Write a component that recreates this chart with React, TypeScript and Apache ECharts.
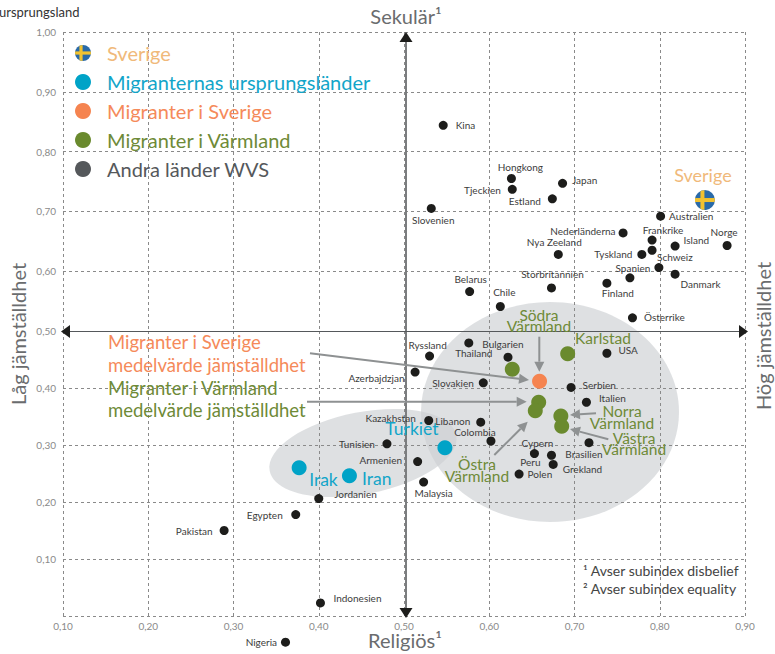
import React, { useEffect, useRef } from "react";
import * as echarts from "echarts";

// ---- values ----
const wvsNames = ["Kina","Hongkong","Tjeckien","Japan","Estland","Slovenien","Australien","Nederländerna","Frankrike","Island","Norge","","Tyskland","Nya Zeeland","Schweiz","Spanien","Danmark","Finland","Belarus","Storbritannien","Chile","Österrike","Ryssland","Thailand","Bulgarien","Azerbajdzjan","Slovakien","USA","Serbien","Italien","Kazakhstan","Libanon","Colombia","Tunisien","Armenien","Malaysia","Brasilien","Cypern","Peru","Grekland","Polen","Jordanien","Egypten","Pakistan","Indonesien","Nigeria"];
const wvsSecular = [.546,.626,.627,.686,.674,.532,.801,.757,.791,.818,.879,.791,.779,.681,.799,.765,.818,.738,.577,.673,.613,.768,.530,.576,.622,.513,.593,.738,.696,.714,.529,.590,.602,.480,.516,.523,.717,.673,.653,.675,.635,.400,.373,.289,.402,.361];
const wvsEquality = [.844,.755,.737,.747,.721,.705,.692,.664,.652,.642,.643,.635,.628,.628,.606,.589,.595,.580,.566,.572,.541,.522,.456,.479,.454,.428,.409,.461,.401,.375,.343,.340,.307,.302,.271,.235,.304,.282,.285,.266,.249,.206,.178,.150,.023,-.046];
const originNames = ["Turkiet","Irak","Iran"];
const originSecular = [.548,.377,.436];
const originEquality = [.295,.260,.246];
const migrantSweden = [.659,.412];
const varmlandNames = ["Södra Värmland","Karlstad","Östra Värmland A","Östra Värmland B","Norra Värmland","Västra Värmland"];
const varmlandSecular = [.627,.692,.658,.654,.684,.685];
const varmlandEquality = [.433,.460,.375,.360,.351,.333];
const sweden = [.853,.719];
const legendNames = ["Sverige","Migranternas ursprungsländer","Migranter i Sverige","Migranter i Värmland","Andra länder WVS"];

// ---- label placement per country: position, dx, dy ----
const labelPlace: Record<string, [string, number, number]> = {
  Kina:["right",3,0],Hongkong:["top",9,3],Tjeckien:["left",-2,1],Japan:["right",0,-3],Estland:["left",-2,2],Slovenien:["bottom",2,-3],Australien:["right",-1,0],"Nederländerna":["left",2,-2],Frankrike:["top",11,4],Island:["right",-1,-6],Norge:["top",-3,1],Tyskland:["left",0,0],"Nya Zeeland":["top",-4,2],Schweiz:["top",16,3.5],Spanien:["top",3,4.5],Danmark:["right",-4,10],Finland:["bottom",11,-5],Belarus:["top",1,1.5],Storbritannien:["top",1,1],Chile:["top",4,0],"Österrike":["right",2,-1],Ryssland:["top",-2,3],Thailand:["bottom",5,-4],Bulgarien:["top",-5,1.5],Azerbajdzjan:["left",-1,6],Slovakien:["left",0,0],USA:["right",2,-3],Serbien:["right",2,-2],Italien:["right",3,-4],Kazakhstan:["left",-3.5,-2],Libanon:["left",-1,-1],Colombia:["top",-16,5],Tunisien:["left",-2.5,0],Armenien:["left",-6,-2],Malaysia:["bottom",10,-4],Brasilien:["bottom",-5,-3],Cypern:["top",-14,2],Peru:["bottom",-4,-6],Grekland:["right",0,5],Polen:["right",-1,0],Jordanien:["right",6,-5],Egypten:["left",-3.5,0],Pakistan:["left",-2,0],Indonesien:["right",3.5,-5],Nigeria:["left",1,0],
};
const originPlace: Record<string, [string, number, number]> = {
  Turkiet:["top",-33,2],Irak:["right",-2.5,12],Iran:["right",0,3],
};

const FONT = "Lato";
const C = { sverige:"#f0b97a", cyan:"#12a5c9", cyanDot:"#00a3c7", orange:"#f58a5a", orangeDot:"#f58450", green:"#6e8a37", greenDot:"#6a8a2e", grey:"#55585b", dark:"#1d1d1b", axis:"#6a6c6e", arrow:"#8e9192" };

const flagSvg = '<svg xmlns="http://www.w3.org/2000/svg" viewBox="0 0 40 40"><defs><clipPath id="c"><circle cx="20" cy="20" r="20"/></clipPath></defs><g clip-path="url(#c)"><rect width="40" height="40" fill="#2a6aa8"/><rect x="11" width="8" height="40" fill="#f2c230"/><rect y="16" width="40" height="8" fill="#f2c230"/></g></svg>';
const flagIcon = "image://data:image/svg+xml;charset=utf-8," + encodeURIComponent(flagSvg);

function arrow(x1: number, y1: number, x2: number, y2: number) {
  const a = Math.atan2(y2 - y1, x2 - x1), L = 10, W = 5;
  const bx = x2 - L * Math.cos(a), by = y2 - L * Math.sin(a);
  const nx = -Math.sin(a), ny = Math.cos(a);
  return [
    { type:"line", z:6, silent:true, shape:{x1,y1,x2:bx,y2:by}, style:{stroke:C.arrow,lineWidth:2} },
    { type:"polygon", z:6, silent:true, shape:{points:[[x2,y2],[bx+nx*W,by+ny*W],[bx-nx*W,by-ny*W]]}, style:{fill:C.arrow} },
  ];
}
function text(s: string, x: number, y: number, fill: string, fontSize: number, align = "center", extra: any = {}, styleExtra: any = {}) {
  return { type:"text", z:7, silent:true, x, y, style:{text:s,fill,fontSize,fontFamily:FONT,textAlign:align,textVerticalAlign:"middle",...styleExtra}, ...extra };
}
function tri(points: number[][], fill = "#1d1d1b") {
  return { type:"polygon", z:6, silent:true, shape:{points}, style:{fill} };
}

const fmt = (v: number) => v.toFixed(2).replace(".", ",");
const labelBase = { show:true, fontFamily:FONT, fontSize:10, color:"#3c3c3c", formatter:"{b}" };

function pointItems(names: string[], xs: number[], ys: number[], place: Record<string,[string,number,number]>, style: any = {}) {
  return names.map((name, i) => {
    const p = place[name];
    return { name, value:[xs[i], ys[i]], label: p ? { ...labelBase, ...style, position:p[0], offset:[p[1],p[2]] } : { show:false } };
  });
}

export default function App() {
  const ref = useRef<HTMLDivElement>(null);
  useEffect(() => {
    document.body.style.margin = "0";
    const chart = echarts.init(ref.current!, undefined, { renderer:"svg" });
    const wvs = pointItems(wvsNames, wvsSecular, wvsEquality, labelPlace);
    const hi = (d: any) => d.value[1] >= 0.5;
    const scatter = (name: string, data: any[], size: number, color: string, lower = true, extra: any = {}) => ({
      type:"scatter", name, data, symbolSize:size, clip:false, z:4,
      itemStyle:{color,opacity:1},
      xAxisIndex: lower ? 1 : 0, yAxisIndex: lower ? 1 : 0, ...extra,
    });
    const xAxisBase = { type:"value", min:0.1, max:0.9, interval:0.1, axisLine:{show:false}, axisTick:{show:false},
      splitLine:{show:true,lineStyle:{color:"#8a8a8a",type:[3,3],width:1}} };
    const yAxisBase = { type:"value", interval:0.1, axisLine:{show:false}, axisTick:{show:false},
      splitLine:{show:true,lineStyle:{color:"#8a8a8a",type:[3,3],width:1}},
      axisLabel:{color:"#8a8a8a",fontFamily:FONT,fontSize:10,margin:7,formatter:fmt} };
    const green = { lineHeight:11.5 };
    chart.setOption({
      animation:false,
      grid:[
        { left:63, width:682, top:32, height:299 },
        { left:63, width:682, top:331, height:285 },
      ],
      xAxis:[
        { ...xAxisBase, gridIndex:0, axisLabel:{show:false} },
        { ...xAxisBase, gridIndex:1, axisLabel:{color:"#8a8a8a",fontFamily:FONT,fontSize:10,margin:5,formatter:fmt} },
      ],
      yAxis:[
        { ...yAxisBase, gridIndex:0, min:0.5, max:1, axisLabel:{...yAxisBase.axisLabel,showMinLabel:false} },
        { ...yAxisBase, gridIndex:1, min:0, max:0.5, axisLabel:{...yAxisBase.axisLabel,showMinLabel:false} },
      ],
      legend:{
        orient:"vertical", left:70, top:38, itemGap:9, itemWidth:16, itemHeight:16, selectedMode:false,
        textStyle:{fontFamily:FONT,fontSize:20,lineHeight:16,padding:[0,0,0,11]},
        data:[
          { name:legendNames[0], icon:flagIcon, textStyle:{color:C.sverige} },
          { name:legendNames[1], icon:"circle", itemStyle:{color:C.cyanDot}, textStyle:{color:C.cyan} },
          { name:legendNames[2], icon:"circle", itemStyle:{color:C.orangeDot}, textStyle:{color:C.orange} },
          { name:legendNames[3], icon:"circle", itemStyle:{color:C.greenDot}, textStyle:{color:C.green} },
          { name:legendNames[4], icon:"circle", itemStyle:{color:C.grey}, textStyle:{color:C.grey} },
        ],
      },
      series:[
        scatter(legendNames[0], [{ name:"Sverige", value:sweden, label:{ show:true, formatter:"{b}", position:"top", offset:[-2,-1], color:C.sverige, fontFamily:FONT, fontSize:18 } }], 20, "#2a6aa8", false, { symbol:flagIcon }),
        scatter(legendNames[1], pointItems(originNames, originSecular, originEquality, originPlace, { color:C.cyan, fontSize:17.5 }), 15, C.cyanDot),
        scatter(legendNames[2], [{ name:"Migranter i Sverige", value:migrantSweden }], 15, C.orangeDot),
        scatter(legendNames[3], varmlandNames.map((n,i)=>({ name:n, value:[varmlandSecular[i],varmlandEquality[i]] })), 15, C.greenDot),
        scatter(legendNames[4], wvs.filter(hi), 9, C.dark, false),
        scatter(legendNames[4], wvs.filter((d)=>!hi(d)), 9, C.dark, true),
      ],
      graphic:{ elements:[
        { type:"ellipse", z:-1, silent:true, x:550, y:412, shape:{cx:0,cy:0,rx:129,ry:110}, style:{fill:"rgba(205,207,210,0.65)"} },
        { type:"ellipse", z:-1, silent:true, x:363, y:453, rotation:0.19, shape:{cx:0,cy:0,rx:95,ry:41}, style:{fill:"rgba(205,207,210,0.65)"} },
        // cross axes
        { type:"line", z:3, silent:true, shape:{x1:406,y1:36,x2:406,y2:612}, style:{stroke:"#7b7d7f",lineWidth:2} },
        { type:"line", z:3, silent:true, shape:{x1:66,y1:331.5,x2:742,y2:331.5}, style:{stroke:"#55585b",lineWidth:1.2} },
        tri([[406,32],[399.5,42],[412.5,42]]),
        tri([[406,618],[399.5,608],[412.5,608]]),
        tri([[61,331.5],[70,325],[70,338]]),
        tri([[748,331.5],[739,325],[739,338]]),
        // arrows
        ...arrow(310,353.3,529,380),
        ...arrow(307,401.7,526.7,401.7),
        ...arrow(539.3,336.7,539.3,371.7),
        ...arrow(494.3,455,527.7,421.7),
        ...arrow(596,413.3,570,415),
        ...arrow(608.3,439.3,570,429),
        // axis titles
        text("Sekulär¹",406,16,C.axis,20),
        text("Religiös¹",405,640,C.axis,20),
        text("Låg jämställdhet",18,334,C.axis,20,"center",{rotation:Math.PI/2}),
        text("Hög jämställdhet",763,336,C.axis,20,"center",{rotation:Math.PI/2}),
        text("ursprungsland",-1,12,"#333333",13,"left"),
        // annotations
        text("Migranter i Sverige",108,342,C.orange,18.5,"left"),
        text("medelvärde jämställdhet",108,365,C.orange,18.5,"left"),
        text("Migranter i Värmland",108,388,C.green,18.5,"left"),
        text("medelvärde jämställdhet",108,410,C.green,18.5,"left"),
        text("Södra\nVärmland",539,320.5,C.green,15.5,"center",{},green),
        text("Karlstad",603,338,C.green,15.5),
        text("Norra\nVärmland",622,417,C.green,15.5,"center",{},green),
        text("Västra\nVärmland",634,443.5,C.green,15.5,"center",{},green),
        text("Östra\nVärmland",477,470,C.green,15.5,"center",{},green),
        // footnotes
        text("¹ Avser subindex disbelief",583,570,"#444444",14,"left"),
        text("² Avser subindex equality",583,588,"#444444",14,"left"),
      ] },
    });
    return () => chart.dispose();
  }, []);
  return <div ref={ref} style={{ width:775, height:654 }} />;
}
